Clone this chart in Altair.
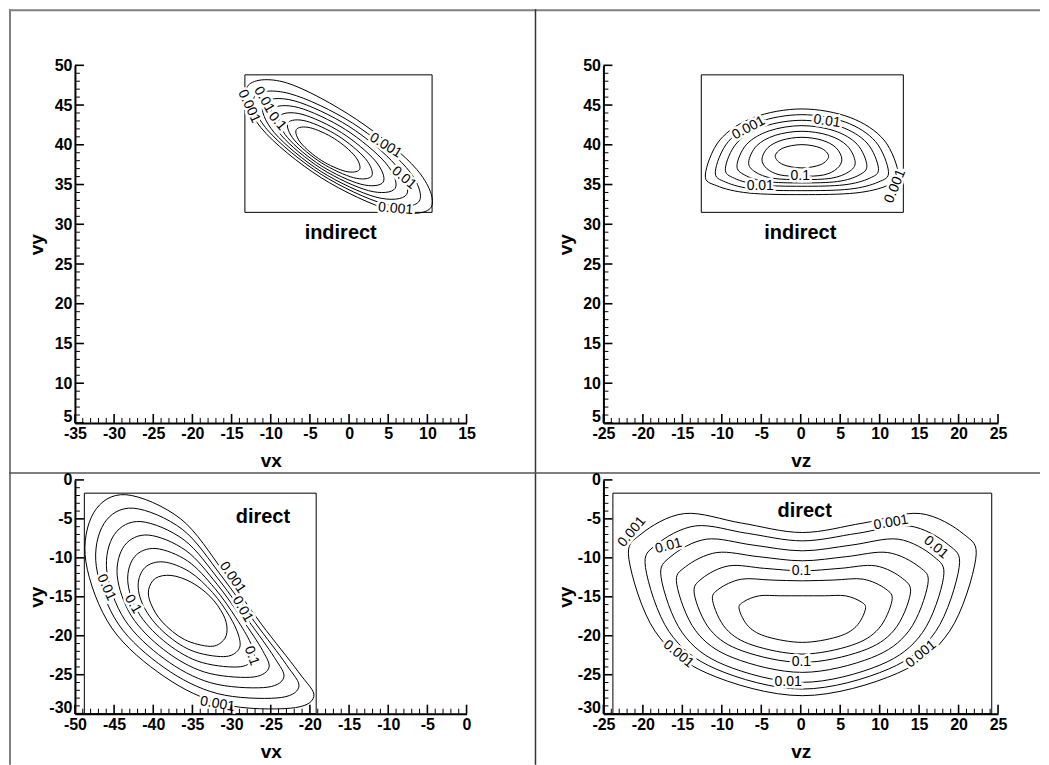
import altair as alt
import pandas as pd

FONT = "Liberation Sans"

# ---------------- axes ----------------
TL_XDOM = [-35, 15]; TL_YDOM = [5, 50]
TR_XDOM = [-25, 25]; TR_YDOM = [5, 50]
BL_XDOM = [-50, 0];  BL_YDOM = [-30, 0]
BR_XDOM = [-25, 25]; BR_YDOM = [-30, 0]

TL_XTICKS = [-35, -30, -25, -20, -15, -10, -5, 0, 5, 10, 15]
TL_YTICKS = [5, 10, 15, 20, 25, 30, 35, 40, 45, 50]
TR_XTICKS = [-25, -20, -15, -10, -5, 0, 5, 10, 15, 20, 25]
TR_YTICKS = [5, 10, 15, 20, 25, 30, 35, 40, 45, 50]
BL_XTICKS = [-50, -45, -40, -35, -30, -25, -20, -15, -10, -5, 0]
BL_YTICKS = [-30, -25, -20, -15, -10, -5, 0]
BR_XTICKS = [-25, -20, -15, -10, -5, 0, 5, 10, 15, 20, 25]
BR_YTICKS = [-30, -25, -20, -15, -10, -5, 0]

# ---------------- data boxes (x1, x2, y1, y2) ----------------
TL_BOX = [-13.3, 10.6, 31.5, 48.8]
TR_BOX = [-12.6, 13.0, 31.5, 48.8]
BL_BOX = [-48.8, -19.2, -30.0, -1.7]
BR_BOX = [-23.8, 24.2, -30.0, -1.7]

# ---------------- contour lines ----------------
TL_CONTOURS = [
    [(1.33, 36.88), (0.75, 38.58), (-1.85, 40.76), (-4.95, 42.14), (-6.73, 41.92), (-6.15, 40.22), (-3.55, 38.04), (-0.45, 36.66)],
    [(2.89, 36.08), (2.08, 38.26), (-1.39, 41.12), (-5.48, 42.98), (-7.79, 42.76), (-6.98, 40.58), (-3.51, 37.72), (0.58, 35.86)],
    [(4.36, 35.31), (3.35, 37.98), (-0.95, 41.52), (-6.01, 43.84), (-8.86, 43.57), (-7.85, 40.90), (-3.55, 37.36), (1.51, 35.04)],
    [(5.89, 34.53), (4.67, 37.71), (-0.46, 41.92), (-6.49, 44.69), (-9.89, 44.39), (-8.67, 41.21), (-3.54, 37.00), (2.49, 34.23)],
    [(7.36, 33.76), (5.94, 37.44), (-0.02, 42.32), (-7.02, 45.54), (-10.96, 45.20), (-9.54, 41.52), (-3.58, 36.64), (3.42, 33.42)],
    [(8.97, 32.93), (7.32, 37.13), (0.46, 42.72), (-7.56, 46.43), (-12.07, 46.07), (-10.42, 41.87), (-3.56, 36.28), (4.46, 32.57)],
    [(10.49, 32.15), (8.65, 36.89), (0.98, 43.17), (-8.00, 47.80), (-13.00, 47.30), (-11.25, 42.15), (-3.58, 35.87), (5.43, 31.73)],
]
TR_CONTOURS = [
    [(0.15, 40.02), (2.54, 39.59), (3.53, 38.55), (2.54, 37.51), (0.15, 37.09), (-2.24, 37.51), (-3.23, 38.55), (-2.24, 39.59)],
    [(0.15, 40.94), (2.68, 40.58), (4.45, 39.65), (5.21, 38.2), (4.60, 37.01), (2.93, 36.21), (0.15, 36.04), (-2.63, 36.21), (-4.30, 37.01), (-4.91, 38.2), (-4.15, 39.65), (-2.38, 40.58)],
    [(0.15, 41.70), (3.53, 41.19), (5.89, 39.87), (6.90, 37.8), (6.09, 36.60), (3.86, 35.79), (0.15, 35.62), (-3.56, 35.79), (-5.79, 36.60), (-6.60, 37.8), (-5.59, 39.87), (-3.23, 41.19)],
    [(0.15, 42.41), (4.27, 41.76), (7.15, 40.06), (8.38, 37.4), (7.39, 36.19), (4.68, 35.38), (0.15, 35.20), (-4.38, 35.38), (-7.09, 36.19), (-8.08, 37.4), (-6.85, 40.06), (-3.97, 41.76)],
    [(0.15, 43.08), (5.00, 42.29), (8.40, 40.22), (9.85, 37.0), (8.69, 35.78), (5.49, 34.96), (0.15, 34.78), (-5.19, 34.96), (-8.39, 35.78), (-9.55, 37.0), (-8.10, 40.22), (-4.70, 42.29)],
    [(0.15, 43.79), (5.64, 42.86), (9.47, 40.41), (11.12, 36.6), (9.80, 35.30), (6.18, 34.42), (0.15, 34.23), (-5.88, 34.42), (-9.50, 35.30), (-10.82, 36.6), (-9.17, 40.41), (-5.34, 42.86)],
    [(0.15, 44.51), (6.27, 43.43), (10.55, 40.60), (12.39, 36.2), (10.92, 34.84), (6.88, 33.93), (0.15, 33.73), (-6.58, 33.93), (-10.62, 34.84), (-12.09, 36.2), (-10.25, 40.60), (-5.97, 43.43)],
]
BL_CONTOURS = [
    [(-37.72, -12.26), (-35.17, -13.12), (-32.73, -14.97), (-31.06, -17.30), (-30.58, -19.17), (-31.05, -20.60), (-32.72, -21.36), (-36.03, -20.48), (-38.82, -18.26), (-40.30, -15.90), (-40.59, -14.10), (-39.71, -12.62)],
    [(-38.68, -10.53), (-35.39, -11.77), (-32.44, -14.44), (-30.25, -17.50), (-29.07, -20.08), (-29.12, -21.80), (-31.02, -22.68), (-35.19, -21.87), (-38.77, -19.43), (-41.13, -16.42), (-41.93, -13.50), (-41.03, -11.22)],
    [(-39.65, -8.81), (-35.61, -10.41), (-32.15, -13.91), (-29.44, -17.70), (-27.55, -20.98), (-27.20, -23.00), (-29.31, -24.01), (-34.35, -23.25), (-38.71, -20.61), (-41.97, -16.93), (-43.26, -12.90), (-42.34, -9.81)],
    [(-40.61, -7.08), (-35.84, -9.06), (-31.86, -13.38), (-28.63, -17.90), (-26.04, -21.89), (-25.27, -24.20), (-27.61, -25.33), (-33.51, -24.64), (-38.66, -21.78), (-42.80, -17.45), (-44.60, -12.30), (-43.66, -8.41)],
    [(-41.57, -5.35), (-36.06, -7.71), (-31.58, -12.86), (-27.82, -18.10), (-24.53, -22.79), (-23.35, -25.40), (-25.91, -26.65), (-32.68, -26.03), (-38.61, -22.95), (-43.63, -17.97), (-45.93, -11.70), (-44.97, -7.01)],
    [(-42.54, -3.63), (-36.28, -6.35), (-31.29, -12.33), (-27.01, -18.30), (-23.01, -23.70), (-21.42, -26.60), (-24.20, -27.98), (-31.84, -27.41), (-38.55, -24.13), (-44.47, -18.48), (-47.27, -11.10), (-46.29, -5.60)],
    [(-43.50, -1.90), (-36.50, -5.00), (-31.00, -11.80), (-26.20, -18.50), (-21.50, -24.60), (-19.50, -27.80), (-22.50, -29.30), (-31.00, -28.80), (-38.50, -25.30), (-45.30, -19.00), (-48.60, -10.50), (-47.60, -4.20)],
]
BR_CONTOURS = [
    [(0.2, -14.87), (3.0, -14.87), (5.64, -14.87), (7.64, -15.64), (8.2, -16.58), (7.0, -18.83), (4.6, -20.15), (0.2, -20.85), (-4.2, -20.15), (-6.6, -18.83), (-7.8, -16.58), (-7.24, -15.64), (-5.24, -14.87), (-2.6, -14.87)],
    [(0.2, -12.95), (4.18, -12.85), (7.92, -12.74), (10.76, -13.99), (11.56, -15.51), (9.86, -19.11), (6.45, -21.22), (0.2, -22.35), (-6.05, -21.22), (-9.46, -19.11), (-11.16, -15.51), (-10.36, -13.99), (-7.52, -12.74), (-3.78, -12.85)],
    [(0.2, -11.67), (4.99, -11.35), (9.50, -11.03), (12.92, -12.66), (13.88, -14.66), (11.83, -19.28), (7.72, -21.97), (0.2, -23.42), (-7.32, -21.97), (-11.43, -19.28), (-13.48, -14.66), (-12.52, -12.66), (-9.10, -11.03), (-4.59, -11.35)],
    [(0.2, -10.38), (5.77, -9.85), (11.02, -9.32), (15.0, -11.15), (16.11, -13.38), (13.72, -19.35), (8.95, -22.83), (0.2, -24.70), (-8.55, -22.83), (-13.32, -19.35), (-15.71, -13.38), (-14.6, -11.15), (-10.62, -9.32), (-5.37, -9.85)],
    [(0.2, -9.10), (6.46, -8.36), (12.37, -7.61), (16.84, -9.82), (18.09, -12.52), (15.41, -19.61), (10.04, -23.76), (0.2, -25.98), (-9.64, -23.76), (-15.01, -19.61), (-17.69, -12.52), (-16.44, -9.82), (-11.97, -7.61), (-6.06, -8.36)],
    [(0.2, -7.82), (7.15, -6.86), (13.71, -5.90), (18.68, -8.30), (20.07, -11.24), (17.09, -19.46), (11.13, -24.27), (0.2, -26.84), (-10.73, -24.27), (-16.69, -19.46), (-19.67, -11.24), (-18.28, -8.30), (-13.31, -5.90), (-6.75, -6.86)],
    [(0.2, -6.75), (7.89, -5.54), (15.14, -4.32), (20.63, -6.95), (22.17, -10.17), (18.87, -19.40), (12.28, -24.80), (0.2, -27.69), (-11.88, -24.80), (-18.47, -19.40), (-21.77, -10.17), (-20.23, -6.95), (-14.74, -4.32), (-7.49, -5.54)],
]

# ---------------- contour labels (x, y, text, angle) ----------------
TL_LABELS = [(-12.77, 44.84, "0.001", 65), (-10.85, 45.68, "0.01", 60), (-9.15, 42.96, "0.1", 50),
             (4.67, 39.9, "0.001", 32), (7.0, 35.83, "0.01", 40), (5.94, 31.95, "0.001", 5)]
TR_LABELS = [(-6.61, 42.11, "0.001", 332), (3.32, 42.96, "0.01", 8), (-0.06, 36.04, "0.1", 0),
             (-5.13, 34.78, "0.01", 0), (11.96, 34.78, "0.001", 292)]
BL_LABELS = [(-29.89, -12.52, "0.001", 55), (-28.61, -16.58, "0.01", 60), (-27.45, -22.56, "0.1", 70),
             (-46.0, -13.8, "0.01", 65), (-42.6, -15.94, "0.1", 60), (-31.8, -28.76, "0.001", 10)]
BR_LABELS = [(-21.38, -6.67, "0.001", 310), (-16.75, -8.46, "0.01", 345), (0.08, -11.67, "0.1", 0),
             (11.45, -5.47, "0.001", 350), (17.13, -8.68, "0.01", 40), (-15.49, -22.35, "0.001", 40),
             (0.08, -23.42, "0.1", 0), (-1.6, -25.98, "0.01", 0), (15.24, -22.35, "0.001", 320)]

# ---------------- panel names ----------------
TL_NAME = (-1.07, 28.87, "indirect")
TR_NAME = (-0.06, 28.87, "indirect")
BL_NAME = (-26.0, -4.74, "direct")
BR_NAME = (0.5, -3.97, "direct")

ONE = pd.DataFrame({"k": [0]})


def panel(W, H, xdom, ydom, xticks, yticks, xtitle, ytitle, box, contours, labels, name, extra=()):
    xs = alt.Scale(domain=xdom, nice=False, zero=False)
    ys = alt.Scale(domain=ydom, nice=False, zero=False)
    common = dict(ticks=False, grid=False, domain=True, domainColor="black", domainWidth=2,
                  labelFont=FONT, labelFontSize=16, labelFontWeight="bold", labelColor="black",
                  labelPadding=3, labelFlush=False, labelOverlap=False,
                  labelExpr="'' + datum.value",
                  titleFont=FONT, titleFontSize=19, titleFontWeight="bold", titleColor="black",
                  titleAlign="center", titleBaseline="middle")
    xaxis = alt.Axis(values=xticks, title=xtitle, titleX=W / 2, titleY=38, **common)
    yaxis = alt.Axis(values=yticks, title=ytitle, titleX=-38, titleY=H / 2, titleAngle=270,
                     labelOffset={"condition": {"test": "datum.value == %d" % ydom[0], "value": -6},
                                  "value": 0},
                     **common)

    def X(f):
        return alt.X(f, scale=xs, axis=xaxis)

    def Y(f):
        return alt.Y(f, scale=ys, axis=yaxis)

    bdf = pd.DataFrame([{"x1": box[0], "x2": box[1], "y1": box[2], "y2": box[3]}])
    boxl = alt.Chart(bdf).mark_rect(fill="transparent", stroke="black", strokeWidth=1).encode(
        x=X("x1:Q"), x2="x2:Q", y=Y("y1:Q"), y2="y2:Q")

    rows = []
    for ci, pts in enumerate(contours):
        for i, (x, y) in enumerate(pts):
            rows.append({"c": ci, "i": i, "x": x, "y": y})
    cdf = pd.DataFrame(rows)
    lines = alt.Chart(cdf).mark_line(interpolate="cardinal-closed", color="black", strokeWidth=1).encode(
        x=X("x:Q"), y=Y("y:Q"), detail="c:N", order="i:Q")

    ldf = pd.DataFrame([{"x": a, "y": b, "t": t, "a": g} for a, b, t, g in labels])
    enc = dict(x=X("x:Q"), y=Y("y:Q"), text="t:N", angle=alt.Angle("a:Q", scale=None))
    halo = alt.Chart(ldf).mark_text(font=FONT, fontSize=14, color="white", stroke="white",
                                    strokeWidth=5).encode(**enc)
    ltxt = alt.Chart(ldf).mark_text(font=FONT, fontSize=14, color="black").encode(**enc)

    ndf = pd.DataFrame([{"x": name[0], "y": name[1], "t": name[2]}])
    ntxt = alt.Chart(ndf).mark_text(font=FONT, fontSize=20, fontWeight="bold", color="black").encode(
        x=X("x:Q"), y=Y("y:Q"), text="t:N")

    xmaj = pd.DataFrame({"x": xticks})
    xmin = pd.DataFrame({"x": [v for v in range(xdom[0], xdom[1] + 1) if v not in xticks]})
    ymaj = pd.DataFrame({"y": yticks})
    ymin = pd.DataFrame({"y": [v for v in range(ydom[0], ydom[1] + 1) if v not in yticks]})
    xt1 = alt.Chart(xmaj).mark_rule(color="black", strokeWidth=1.6).encode(
        x=X("x:Q"), y=alt.value(H), y2=alt.value(H - 9))
    xt2 = alt.Chart(xmin).mark_rule(color="black", strokeWidth=1).encode(
        x=X("x:Q"), y=alt.value(H), y2=alt.value(H - 5))
    yt1 = alt.Chart(ymaj).mark_rule(color="black", strokeWidth=1.6).encode(
        y=Y("y:Q"), x=alt.value(0), x2=alt.value(9))
    yt2 = alt.Chart(ymin).mark_rule(color="black", strokeWidth=1).encode(
        y=Y("y:Q"), x=alt.value(0), x2=alt.value(5))

    layers = [boxl, lines, halo, ltxt, ntxt, xt1, xt2, yt1, yt2] + list(extra)
    return alt.layer(*layers).properties(width=W, height=H)


# frame of the figure (pixel decorations, relative to the top-left plot); kept inside the window width
frame = [
    alt.Chart(ONE).mark_rule(color="#808080", strokeWidth=2).encode(
        x=alt.value(-65), y=alt.value(-56), y2=alt.value(700)),
    alt.Chart(ONE).mark_rule(color="#808080", strokeWidth=2).encode(
        y=alt.value(-55), x=alt.value(-66), x2=alt.value(966)),
    alt.Chart(ONE).mark_rule(color="#333333", strokeWidth=1.5).encode(
        x=alt.value(461), y=alt.value(-56), y2=alt.value(700)),
    alt.Chart(ONE).mark_rule(color="#555555", strokeWidth=1.5).encode(
        y=alt.value(408), x=alt.value(-66), x2=alt.value(966)),
]

TL = panel(392, 358, TL_XDOM, TL_YDOM, TL_XTICKS, TL_YTICKS, "vx", "vy", TL_BOX, TL_CONTOURS, TL_LABELS, TL_NAME, frame)
TR = panel(395, 358, TR_XDOM, TR_YDOM, TR_XTICKS, TR_YTICKS, "vz", "vy", TR_BOX, TR_CONTOURS, TR_LABELS, TR_NAME)
BL = panel(392, 234, BL_XDOM, BL_YDOM, BL_XTICKS, BL_YTICKS, "vx", "vy", BL_BOX, BL_CONTOURS, BL_LABELS, BL_NAME)
BR = panel(395, 234, BR_XDOM, BR_YDOM, BR_XTICKS, BR_YTICKS, "vz", "vy", BR_BOX, BR_CONTOURS, BR_LABELS, BR_NAME)

chart = alt.concat(TL, TR, BL, BR, columns=2, bounds="flush",
                   spacing=alt.RowColnumber(row=57, column=137)).properties(
    padding=0, background="white").configure_view(strokeWidth=0)

chart.save("out.html", embed_options={"renderer": "svg", "actions": False})
